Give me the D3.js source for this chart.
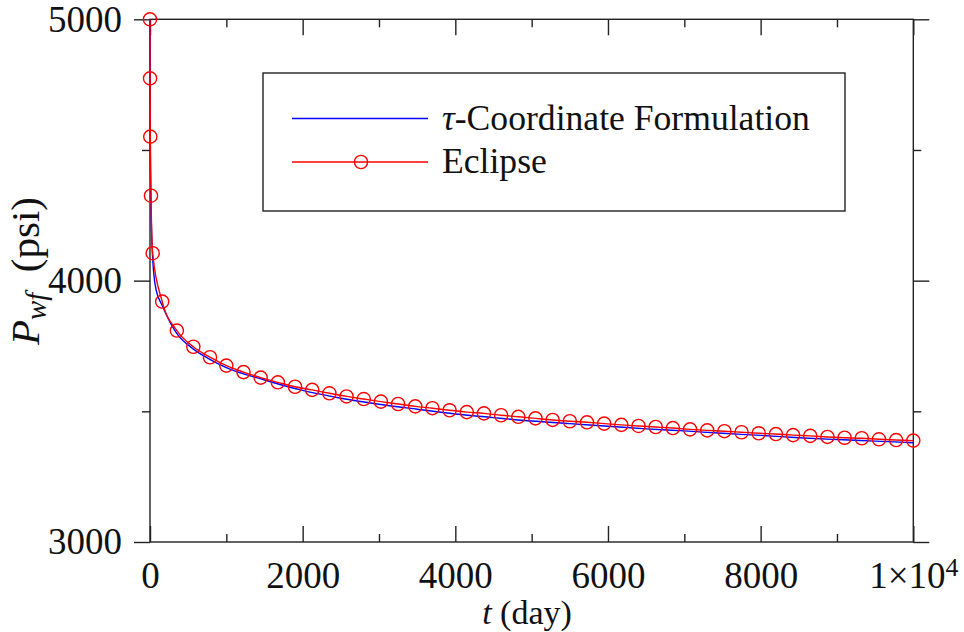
<!DOCTYPE html>
<html>
<head>
<meta charset="utf-8">
<script src="https://cdn.jsdelivr.net/npm/d3@7/dist/d3.min.js"></script>
<style>
  html, body { margin: 0; padding: 0; background: #fff; }
  svg { display: block; }
</style>
</head>
<body>
<svg id="chart" width="964" height="632" font-family="Liberation Serif"></svg>
<script>
// Bottom-hole flowing pressure vs time (days)

// tau-coordinate formulation (solid blue)
const tauTime = [0, 1, 4, 12, 35, 80, 160, 350, 570, 790, 1000, 1500, 2000, 2500, 3000,
                 3500, 4000, 4500, 5000, 5500, 6000, 6500, 7000, 7500, 8000, 8500, 9000, 9500, 10000];
const tauPressure = [5000, 4765, 4540, 4310, 4085, 3965, 3905, 3798, 3738, 3698, 3667, 3620, 3580, 3550, 3527,
                     3508, 3490, 3476, 3463, 3453, 3443, 3433, 3425, 3416, 3408, 3399, 3392, 3386, 3380];

// Eclipse reference run (red line with circle markers)
const eclipseTime = [0, 1, 4, 13, 35, 160, 352, 568, 786,
  1000, 1225, 1450, 1675, 1900, 2125, 2350, 2575, 2800, 3025, 3250, 3475, 3700, 3925,
  4150, 4375, 4600, 4825, 5050, 5275, 5500, 5725, 5950, 6175, 6400, 6625, 6850, 7075,
  7300, 7525, 7750, 7975, 8200, 8425, 8650, 8875, 9100, 9325, 9550, 9775, 10000];
const eclipsePressure = [5000, 4774, 4551, 4325, 4105, 3920, 3809, 3747, 3707,
  3675, 3650, 3629, 3611, 3594, 3582, 3569, 3557, 3547, 3537, 3528, 3519, 3512, 3504,
  3497, 3492, 3485, 3479, 3473, 3467, 3462, 3458, 3453, 3448, 3444, 3440, 3436, 3431,
  3427, 3424, 3420, 3416, 3413, 3409, 3406, 3402, 3399, 3397, 3393, 3390, 3388];

// Axis ticks
const xMajorTicks = [0, 2000, 4000, 6000, 8000, 10000];
const xMinorTicks = [1000, 3000, 5000, 7000, 9000];
const yMajorTicks = [3000, 4000, 5000];
const yMinorTicks = [3500, 4500];

const legendLabels = ["-Coordinate Formulation", "Eclipse"];

const fontFamily = "Liberation Serif";
const svg = d3.select("#chart");
const plotLeft = 150, plotRight = 913.3, plotTop = 19.3, plotBottom = 542;
const frameColor = "#222";
const frameWidth = 1.4;
const textColor = "#111";

const x = d3.scaleLinear().domain([0, 10000]).range([plotLeft, plotRight]);
const y = d3.scaleLinear().domain([3000, 5000]).range([plotBottom, plotTop]);

const majorLen = 16, minorLen = 8;
const tickFont = 37;

function styleAxis(g) {
  g.attr("font-family", fontFamily).attr("font-size", tickFont);
  g.select(".domain").remove();
  g.selectAll(".tick line").attr("stroke", frameColor).attr("stroke-width", frameWidth);
  g.selectAll("text").style("font-family", fontFamily).style("font-size", tickFont + "px").attr("fill", textColor);
}

// Scale a text's font size so its drawn width equals the target width
function fitWidth(sel, target) {
  const w = sel.node().getComputedTextLength();
  const fs = parseFloat(sel.style("font-size"));
  if (w > 0) sel.style("font-size", (fs * target / w) + "px");
  return parseFloat(sel.style("font-size"));
}

// Bottom: ticks point inward, labels below
const gBottom = svg.append("g").attr("transform", `translate(0,${plotBottom})`)
  .call(d3.axisBottom(x).tickValues(xMajorTicks).tickSize(-majorLen)
        .tickFormat(d => d === 10000 ? "" : String(d)))
  .call(styleAxis);
gBottom.selectAll(".tick text").attr("y", 46).attr("dy", 0);
// 1×10^4 label on the last tick
const lastTick = gBottom.selectAll(".tick").filter(d => d === 10000).select("text");
lastTick.text(null);
lastTick.append("tspan").text("1×10");
lastTick.append("tspan").attr("dy", "-0.45em").style("font-size", "0.7em").text("4");

svg.append("g").attr("transform", `translate(0,${plotBottom})`)
  .call(d3.axisBottom(x).tickValues(xMinorTicks).tickSize(-minorLen).tickFormat(""))
  .call(styleAxis);

// Top: ticks point inward
svg.append("g").attr("transform", `translate(0,${plotTop})`)
  .call(d3.axisTop(x).tickValues(xMajorTicks).tickSize(-majorLen).tickFormat(""))
  .call(styleAxis);
svg.append("g").attr("transform", `translate(0,${plotTop})`)
  .call(d3.axisTop(x).tickValues(xMinorTicks).tickSize(-minorLen).tickFormat(""))
  .call(styleAxis);

// Left: ticks point outward, labels to the left
svg.append("g").attr("transform", `translate(${plotLeft},0)`)
  .call(d3.axisLeft(y).tickValues(yMajorTicks).tickSize(majorLen).tickPadding(12).tickFormat(d3.format("d")))
  .call(styleAxis);
svg.append("g").attr("transform", `translate(${plotLeft},0)`)
  .call(d3.axisLeft(y).tickValues(yMinorTicks).tickSize(minorLen).tickFormat(""))
  .call(styleAxis);

// Right: ticks point outward
svg.append("g").attr("transform", `translate(${plotRight},0)`)
  .call(d3.axisRight(y).tickValues(yMajorTicks).tickSize(majorLen).tickFormat(""))
  .call(styleAxis);
svg.append("g").attr("transform", `translate(${plotRight},0)`)
  .call(d3.axisRight(y).tickValues(yMinorTicks).tickSize(minorLen).tickFormat(""))
  .call(styleAxis);

// Frame
svg.append("rect")
  .attr("x", plotLeft).attr("y", plotTop)
  .attr("width", plotRight - plotLeft).attr("height", plotBottom - plotTop)
  .attr("fill", "none").attr("stroke", frameColor).attr("stroke-width", frameWidth);

// Series
const line = d3.line().curve(d3.curveMonotoneX);

const tauPts = tauTime.map((t, i) => [x(t), y(tauPressure[i])]);
const eclPts = eclipseTime.map((t, i) => [x(t), y(eclipsePressure[i])]);

svg.append("path").attr("d", line(tauPts))
  .attr("fill", "none").attr("stroke", "#0000ff").attr("stroke-width", 1.4);

svg.append("path").attr("d", line(eclPts))
  .attr("fill", "none").attr("stroke", "#ff0000").attr("stroke-width", 1.4);

svg.append("g").selectAll("circle").data(eclPts).join("circle")
  .attr("cx", d => d[0]).attr("cy", d => d[1]).attr("r", 6.6)
  .attr("fill", "none").attr("stroke", "#ff0000").attr("stroke-width", 1.4);

// Axis titles
const xTitle = svg.append("text")
  .attr("x", 527).attr("y", 624).attr("text-anchor", "middle")
  .attr("fill", textColor).style("font-family", fontFamily).style("font-size", "34px");
xTitle.append("tspan").style("font-style", "italic").text("t");
xTitle.append("tspan").text(" (day)");

const yTitle = svg.append("text")
  .attr("transform", "translate(39,271) rotate(-90)")
  .attr("text-anchor", "middle")
  .attr("fill", textColor).style("font-family", fontFamily).style("font-size", "36px");
yTitle.append("tspan").style("font-style", "italic").text("P");
yTitle.append("tspan").style("font-style", "italic").style("font-size", "0.7em").attr("dy", "0.25em").text("wf");
yTitle.append("tspan").attr("dy", "-0.175em").text("\u2002(psi)");
fitWidth(yTitle, 148);

// Legend
const lg = svg.append("g");
lg.append("rect").attr("x", 263).attr("y", 73).attr("width", 582).attr("height", 138)
  .attr("fill", "#fff").attr("stroke", frameColor).attr("stroke-width", frameWidth);

lg.append("line").attr("x1", 292).attr("x2", 428).attr("y1", 118.5).attr("y2", 118.5)
  .attr("stroke", "#0000ff").attr("stroke-width", 1.4);
lg.append("line").attr("x1", 292).attr("x2", 428).attr("y1", 162).attr("y2", 162)
  .attr("stroke", "#ff0000").attr("stroke-width", 1.4);
lg.append("circle").attr("cx", 361).attr("cy", 162).attr("r", 6.6)
  .attr("fill", "none").attr("stroke", "#ff0000").attr("stroke-width", 1.4);

const l1 = lg.append("text").attr("x", 442).attr("y", 130)
  .attr("fill", textColor).style("font-family", fontFamily).style("font-size", "33px");
l1.append("tspan").style("font-style", "italic").text("τ");
l1.append("tspan").text(legendLabels[0]);
const legendSize = fitWidth(l1, 368);
lg.append("text").attr("x", 442).attr("y", 173)
  .attr("fill", textColor).style("font-family", fontFamily).style("font-size", legendSize + "px")
  .text(legendLabels[1]);
</script>
</body>
</html>
